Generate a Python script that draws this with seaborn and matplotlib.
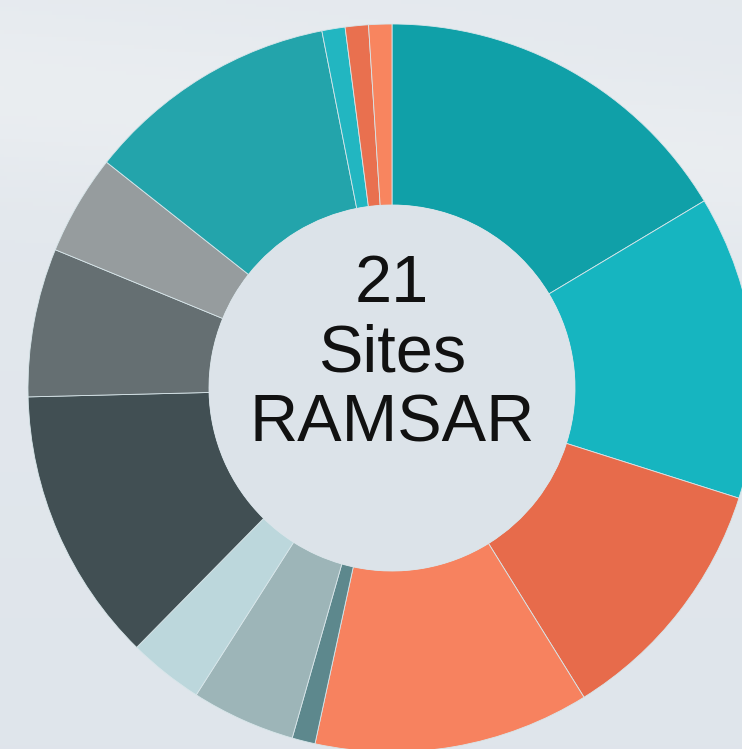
import numpy as np
import seaborn as sns
from matplotlib import pyplot as plt
from matplotlib.patches import Circle

# slices, clockwise from 12 o'clock (share of the ring, in degrees)
groupes = ['A', 'B', 'C', 'D', 'E', 'F', 'G', 'H', 'I', 'J', 'K', 'L', 'M', 'N']
valeurs = [59, 48.5, 40.5, 44, 3.7, 16.6, 12, 44, 23.7, 16, 40.5, 3.7, 3.7, 3.7]
couleurs = ['#10a0a8', '#16b5c0', '#e76b4b', '#f7825f', '#5d888d', '#9db5b8',
            '#bcd7dc', '#414f53', '#656f72', '#969c9e', '#23a4ab', '#22b6c1',
            '#e9704f', '#f8855f']
lignes = ['21', 'Sites', 'RAMSAR']

sns.set_theme(style='white')
plt.rcParams['font.family'] = ['Liberation Sans', 'DejaVu Sans']

fig = plt.figure(figsize=(7.42, 7.49), dpi=100)
fig.patch.set_facecolor('#e2e7ec')
ax = fig.add_axes([0, 0, 1, 1])

# soft background gradient
gy, gx = np.mgrid[0:1:200j, 0:1:200j]
band = np.exp(-((gy - 0.12 - 0.1 * gx) / 0.12) ** 2) * 0.5
base = np.array([0.875, 0.898, 0.922])
top = np.array([0.925, 0.937, 0.949])
img = base + (top - base) * (band[..., None] + (1 - gy[..., None]) * 0.4)
ax.imshow(np.clip(img, 0, 1), extent=(-392, 350, -361, 388), zorder=0, aspect='auto')

ax.pie(valeurs, colors=sns.color_palette(couleurs), startangle=90, counterclock=False,
       radius=364, center=(0, 0),
       wedgeprops=dict(width=181, edgecolor='#d8e6ea', linewidth=0.6))
ax.add_patch(Circle((0, 0), 183, facecolor='#dce3e9', edgecolor='none', zorder=3))

for i, l in enumerate(lignes):
    ax.text(0, 86 - 70 * i, l, ha='center', va='baseline', fontsize=48,
            color='#111111', zorder=4)

ax.set_xlim(-392, 350)
ax.set_ylim(-361, 388)
ax.set_aspect('equal')
ax.axis('off')

fig.savefig('out.png', dpi=100, facecolor=fig.get_facecolor())
